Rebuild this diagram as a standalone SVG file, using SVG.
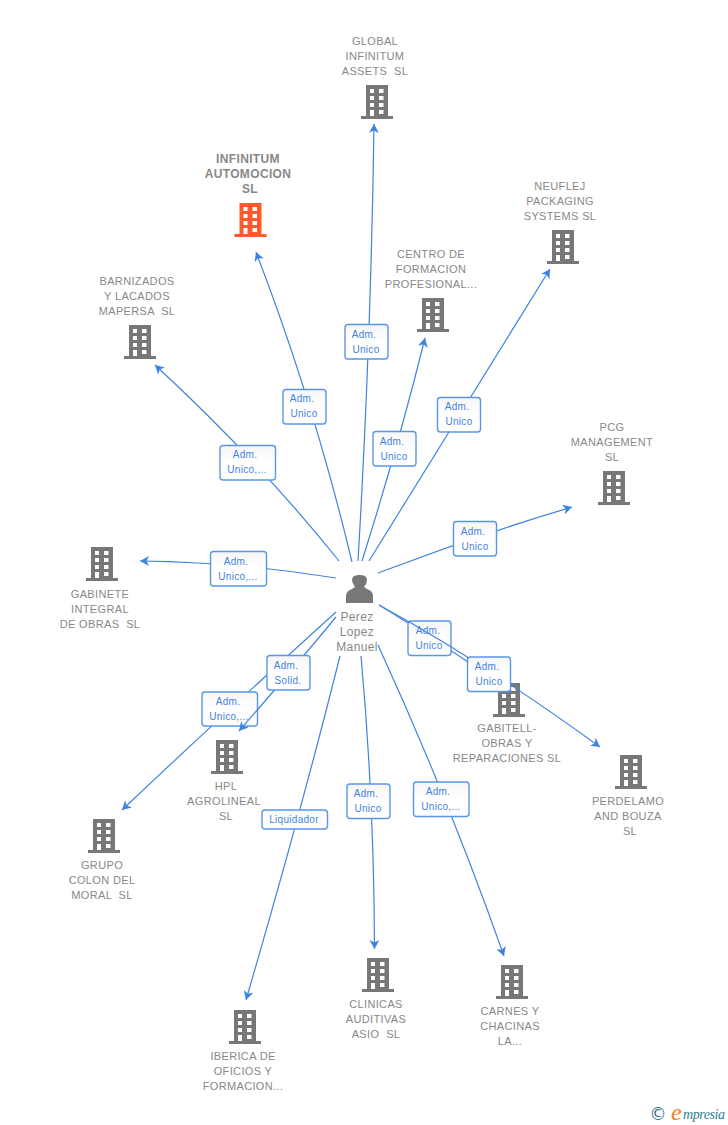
<svg xmlns="http://www.w3.org/2000/svg" width="728" height="1125" viewBox="0 0 728 1125">
<style>
text{font-family:"Liberation Sans",Arial,sans-serif;white-space:pre}
.n{font-size:11px;fill:#888;text-anchor:middle;letter-spacing:.35px}
.p{font-size:12px;fill:#888;text-anchor:middle;letter-spacing:.35px}
.b{font-size:12px;font-weight:bold;fill:#888;text-anchor:middle;letter-spacing:.35px}
.c{fill:none;stroke:#3f83e0;stroke-width:1.2;marker-end:url(#a)}
.l{fill:url(#g);stroke:#5a96e8;stroke-width:1.4}
.t{font-size:10px;fill:#3f83e0;text-anchor:middle;letter-spacing:.3px}
</style>
<defs>
<linearGradient id="g" x1="0" y1="0" x2="0" y2="1"><stop offset="0" stop-color="#f6f6f6"/><stop offset=".5" stop-color="#fff"/></linearGradient>
<marker id="a" markerWidth="10" markerHeight="10" refX="9" refY="5" orient="auto" markerUnits="userSpaceOnUse"><path d="M0,0L9,5L0,10L2.500,5Z" fill="#3f83e0"/></marker>
<path id="bd" fill-rule="evenodd" d="M5,0H27V31H32V34H0V31H5ZM9,4V8H13V4ZM18,4V8H22.500V4ZM9,11V15H13V11ZM18,11V15H22.500V11ZM9,18V22H13V18ZM18,18V22H22.500V18ZM9,25V31H13V25ZM18,25V29H22.500V25Z"/>
</defs>
<rect width="728" height="1125" fill="#fff"/>
<g id="node-infinitum"><text class="b"><tspan x="248" y="163">INFINITUM</tspan><tspan x="248" y="178">AUTOMOCION</tspan><tspan x="250" y="193">SL</tspan></text><use href="#bd" x="234.500" y="203" fill="#ff5a2c"/></g>
<g id="node-global" fill="#777"><text class="n"><tspan x="375" y="45">GLOBAL</tspan><tspan x="375" y="60">INFINITUM</tspan><tspan x="375" y="75">ASSETS  SL</tspan></text><use href="#bd" x="361" y="85"/></g>
<g id="node-neuflej" fill="#777"><text class="n"><tspan x="560" y="190">NEUFLEJ</tspan><tspan x="560" y="205">PACKAGING</tspan><tspan x="560" y="220">SYSTEMS SL</tspan></text><use href="#bd" x="547" y="230"/></g>
<g id="node-centro" fill="#777"><text class="n"><tspan x="431" y="258">CENTRO DE</tspan><tspan x="431" y="273">FORMACION</tspan><tspan x="431" y="288">PROFESIONAL...</tspan></text><use href="#bd" x="417" y="298"/></g>
<g id="node-barnizados" fill="#777"><text class="n"><tspan x="137" y="285">BARNIZADOS</tspan><tspan x="137" y="300">Y LACADOS</tspan><tspan x="137" y="315">MAPERSA  SL</tspan></text><use href="#bd" x="124" y="325"/></g>
<g id="node-pcg" fill="#777"><text class="n"><tspan x="612" y="431">PCG</tspan><tspan x="612" y="446">MANAGEMENT</tspan><tspan x="612" y="461">SL</tspan></text><use href="#bd" x="598" y="471"/></g>
<g id="node-gabinete" fill="#777"><use href="#bd" x="86" y="547"/><text class="n"><tspan x="100" y="598">GABINETE</tspan><tspan x="100" y="613">INTEGRAL</tspan><tspan x="100" y="628">DE OBRAS  SL</tspan></text></g>
<g id="node-gabitell" fill="#777"><use href="#bd" x="493" y="683"/><text class="n"><tspan x="507" y="732">GABITELL-</tspan><tspan x="507" y="747">OBRAS Y</tspan><tspan x="507" y="762">REPARACIONES SL</tspan></text></g>
<g id="node-perdelamo" fill="#777"><use href="#bd" x="615" y="755"/><text class="n"><tspan x="628" y="805">PERDELAMO</tspan><tspan x="628" y="820">AND BOUZA</tspan><tspan x="630" y="835">SL</tspan></text></g>
<g id="node-hpl" fill="#777"><use href="#bd" x="211" y="740"/><text class="n"><tspan x="226" y="790">HPL</tspan><tspan x="224" y="805">AGROLINEAL</tspan><tspan x="226" y="820">SL</tspan></text></g>
<g id="node-grupo" fill="#777"><use href="#bd" x="88" y="819"/><text class="n"><tspan x="102" y="869">GRUPO</tspan><tspan x="102" y="884">COLON DEL</tspan><tspan x="102" y="899">MORAL  SL</tspan></text></g>
<g id="node-clinicas" fill="#777"><use href="#bd" x="362" y="958"/><text class="n"><tspan x="376" y="1008">CLINICAS</tspan><tspan x="376" y="1023">AUDITIVAS</tspan><tspan x="376" y="1038">ASIO  SL</tspan></text></g>
<g id="node-carnes" fill="#777"><use href="#bd" x="496" y="965"/><text class="n"><tspan x="510" y="1015">CARNES Y</tspan><tspan x="510" y="1030">CHACINAS</tspan><tspan x="510" y="1045">LA...</tspan></text></g>
<g id="node-iberica" fill="#777"><use href="#bd" x="229" y="1010"/><text class="n"><tspan x="243" y="1060">IBERICA DE</tspan><tspan x="243" y="1075">OFICIOS Y</tspan><tspan x="243" y="1090">FORMACION...</tspan></text></g>
<g id="node-person"><path fill="#777" d="M346,603V596Q346,591 352,589L355,587Q352,583 352,580Q352,575 359.500,575Q367,575 367,580Q367,584 364,587L367,589Q373,591 373,596V603Z"/><text class="p"><tspan x="357" y="621">Perez</tspan><tspan x="357" y="636">Lopez</tspan><tspan x="357" y="651">Manuel</tspan></text></g>
<g id="connectors">
<path class="c" d="M358,561Q371,340 374,124"/>
<rect class="l" x="345" y="324.500" width="43" height="34.500" rx="3"/><text class="t"><tspan x="364" y="338">Adm.</tspan><tspan x="366" y="353">Unico</tspan></text>
<path class="c" d="M352,562Q314,403 256,252"/>
<rect class="l" x="283" y="389.500" width="43" height="34.500" rx="3"/><text class="t"><tspan x="302" y="402">Adm.</tspan><tspan x="304" y="417">Unico</tspan></text>
<path class="c" d="M339,561Q259,461 155,365"/>
<rect class="l" x="220" y="445.500" width="55.500" height="34.500" rx="3"/><text class="t"><tspan x="245" y="458">Adm.</tspan><tspan x="247" y="473">Unico,...</tspan></text>
<path class="c" d="M362,561Q398,447 425,338"/>
<rect class="l" x="373" y="431.500" width="43" height="34.500" rx="3"/><text class="t"><tspan x="392" y="445">Adm.</tspan><tspan x="394" y="460">Unico</tspan></text>
<path class="c" d="M369,561Q460,413 550,269"/>
<rect class="l" x="437.500" y="397.500" width="43" height="34.500" rx="3"/><text class="t"><tspan x="457" y="410">Adm.</tspan><tspan x="459" y="425">Unico</tspan></text>
<path class="c" d="M378,573Q475,536 572,507"/>
<rect class="l" x="453.500" y="521.500" width="43" height="34.500" rx="3"/><text class="t"><tspan x="473" y="535">Adm.</tspan><tspan x="475" y="550">Unico</tspan></text>
<path class="c" d="M336,578Q238,562 140,561"/>
<rect class="l" x="210.500" y="551.500" width="56" height="34.500" rx="3"/><text class="t"><tspan x="236" y="565">Adm.</tspan><tspan x="238" y="580">Unico,...</tspan></text>
<path class="c" d="M379,605Q440,642 512,692"/>
<rect class="l" x="408" y="621" width="43" height="34.500" rx="3"/><text class="t"><tspan x="428" y="634">Adm.</tspan><tspan x="429" y="649">Unico</tspan></text>
<path class="c" d="M379,605Q480,660 600,747"/>
<rect class="l" x="467.500" y="657" width="43" height="34.500" rx="3"/><text class="t"><tspan x="487" y="670">Adm.</tspan><tspan x="489" y="685">Unico</tspan></text>
<path class="c" d="M336,612Q231,707 122,810"/>
<rect class="l" x="202" y="692" width="55.500" height="34" rx="3"/><text class="t"><tspan x="228" y="705">Adm.</tspan><tspan x="229" y="720">Unico,...</tspan></text>
<path class="c" d="M336,617Q294,668 239,731"/>
<rect class="l" x="267" y="655.500" width="43" height="34.500" rx="3"/><text class="t"><tspan x="286" y="669">Adm.</tspan><tspan x="288" y="684">Solid.</tspan></text>
<path class="c" d="M340,656Q301,812 246,1000"/>
<rect class="l" x="262" y="810" width="65.500" height="19" rx="3"/><text class="t" x="294" y="823">Liquidador</text>
<path class="c" d="M361,656Q374,798 374.500,949"/>
<rect class="l" x="347" y="784" width="43" height="34.500" rx="3"/><text class="t"><tspan x="366" y="797">Adm.</tspan><tspan x="368" y="812">Unico</tspan></text>
<path class="c" d="M378,645Q449,800 504,956"/>
<rect class="l" x="413.500" y="782" width="55.500" height="34.500" rx="3"/><text class="t"><tspan x="438" y="795">Adm.</tspan><tspan x="441" y="810">Unico,...</tspan></text>
</g>
<g id="logo">
<text x="658" y="1120" font-size="17" fill="#2f6f85" text-anchor="middle" style="font-family:'DejaVu Sans',sans-serif">©</text>
<text x="671" y="1120" font-size="24" fill="#f08020" font-style="italic" style="font-family:'Liberation Serif',serif">e</text>
<text x="683" y="1119" font-size="14" fill="#2f7f95" font-style="italic" textLength="42" style="font-family:'Liberation Serif',serif">mpresia</text>
</g>
</svg>
